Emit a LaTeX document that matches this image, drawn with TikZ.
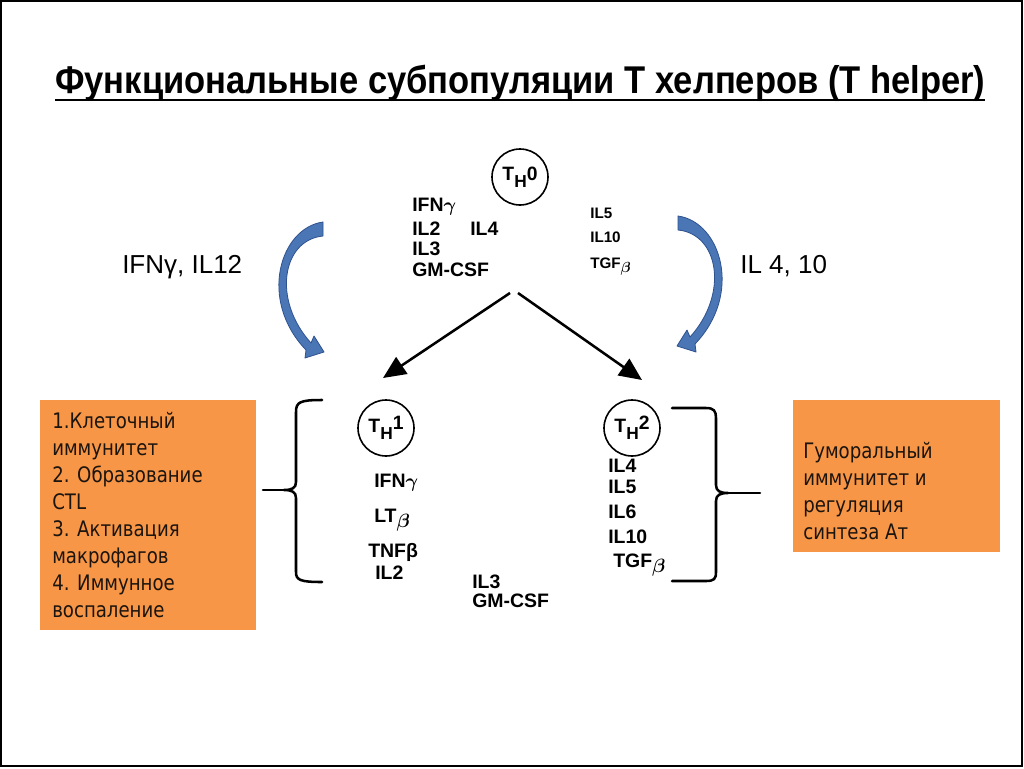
\documentclass[tikz,border=0pt]{standalone}
\usepackage{fontspec}
\usepackage{graphicx}
\setmainfont{Liberation Sans}
\newfontfamily\boxfont[FakeStretch=0.85]{DejaVu Sans}
\usetikzlibrary{arrows.meta}
\definecolor{boxorange}{RGB}{247,150,70}
\definecolor{arrowblue}{RGB}{74,118,181}
\definecolor{arrowedge}{RGB}{47,82,143}
\definecolor{boxtext}{RGB}{28,20,14}
\newcommand\thlabel[2]{T\raisebox{-0.38em}{\fontsize{13}{13}\selectfont H}\raisebox{#2}{#1}}
\newcommand\gam{{\boldmath$\gamma$}}
\newcommand\bet{\raisebox{-0.3em}{\boldmath$\beta$}}
\begin{document}
\begin{tikzpicture}[x=0.75pt,y=-0.75pt,
  cyto/.style={anchor=base west, inner sep=0pt, font=\bfseries\fontsize{14.6}{17}\selectfont},
  cytosmall/.style={anchor=base west, inner sep=0pt, font=\bfseries\fontsize{11.4}{13}\selectfont},
  cell/.style={circle, draw, line width=1.2pt, minimum size=42pt, inner sep=0pt, font=\bfseries\fontsize{14.5}{16}\selectfont},
  boxline/.style={anchor=base west, inner sep=0pt, text=boxtext, font=\boxfont\fontsize{16}{18}\selectfont},
  inducer/.style={anchor=base west, inner sep=0pt, font=\fontsize{19.5}{22}\selectfont},
  bracket/.style={line width=1.9pt, line join=round, line cap=round},
  diffarrow/.style={line width=1.9pt, -{Triangle[length=17pt,width=15pt]}},
  bluearrow/.style={fill=arrowblue, draw=arrowedge, line width=0.6pt, line join=round},
  panel/.style={fill=boxorange, draw=none, inner sep=0pt}]
\useasboundingbox (0,0) rectangle (1024,768);
\fill[white] (0,0) rectangle (1024,768);
\draw[line width=1.5pt] (1,1) rectangle (1022,766);

% title
\node[anchor=base west, inner sep=0pt] (title) at (55,93)
  {\resizebox{697.5pt}{!}{\scalebox{1}[1.12]{\bfseries Функциональные субпопуляции Т хелперов (Т helper)}}};
\draw[line width=2.2pt] (title.base west) ++(0,7) -- ++(930,0);

% cells
\node[cell] (th0) at (520,177) {\thlabel{0}{0em}};
\node[cell] (th1) at (386,428) {\thlabel{1}{0.12em}};
\node[cell] (th2) at (632,428) {\thlabel{2}{0.12em}};

% TH0 cytokines
\node[cyto] (c0a) at (412,211) {IFN\gam};
\node[cyto] (c0b) at (412,235) {IL2};
\node[cyto] (c0c) at (412,255) {IL3};
\node[cyto] (c0d) at (412,276) {GM-CSF};
\node[cyto] (c0e) at (470,235) {IL4};
\node[cytosmall] (c0f) at (590,218) {IL5};
\node[cytosmall] (c0g) at (590,242) {IL10};
\node[cytosmall] (c0h) at (590,268) {TGF\bet};

% inducers
\node[inducer] (ind1) at (122,273) {IFNγ, IL12};
\node[inducer] (ind2) at (740,273) {IL 4, 10};

% blue curved arrows
\draw[bluearrow] (323,222) .. controls (280,228) and (258,300) .. (306,350)
  -- (305,358) -- (324,352) -- (314,336) -- (311,343)
  .. controls (272,300) and (282,240) .. (323,236) -- cycle;
\draw[bluearrow] (678,216) .. controls (721,222) and (743,294) .. (695,344)
  -- (696,352) -- (677,346) -- (687,330) -- (690,337)
  .. controls (729,294) and (719,234) .. (678,230) -- cycle;

% differentiation arrows
\coordinate (split1) at (510,293);
\coordinate (split2) at (518,293);
\coordinate (to1) at (383,378);
\coordinate (to2) at (642,380);
\draw[diffarrow] (split1) -- (to1);
\draw[diffarrow] (split2) -- (to2);

% TH1 cytokines
\node[cyto] (c1a) at (374,487) {IFN\gam};
\node[cyto] (c1b) at (374,522) {LT\bet};
\node[cyto] (c1c) at (368,557) {TNFβ};
\node[cyto] (c1d) at (375,579) {IL2};
\node[cyto] (c1e) at (472,588) {IL3};
\node[cyto] (c1f) at (472,607) {GM-CSF};

% TH2 cytokines
\node[cyto] (c2a) at (608,472) {IL4};
\node[cyto] (c2b) at (608,493) {IL5};
\node[cyto] (c2c) at (608,518) {IL6};
\node[cyto] (c2d) at (608,543) {IL10};
\node[cyto] (c2e) at (613,567) {TGF\bet};

% brackets
\draw[bracket] (322,400) .. controls (300,400) and (296,402) .. (296,412) -- (296,482)
  .. controls (296,488) and (292,490) .. (284,490)
  .. controls (292,490) and (296,492) .. (296,498) -- (296,572)
  .. controls (296,580) and (300,582) .. (322,582);
\coordinate (lb) at (284,490);
\coordinate (lbtip) at (263,490);
\draw[bracket] (lb) -- (lbtip);

\draw[bracket] (672,408) -- (706,408) .. controls (714,408) and (716,411) .. (716,418) -- (716,485)
  .. controls (716,491) and (720,493) .. (728,493)
  .. controls (720,493) and (716,495) .. (716,501) -- (716,572)
  .. controls (716,579) and (714,581) .. (706,581) -- (672,581);
\coordinate (rb) at (728,493);
\coordinate (rbtip) at (760,493);
\draw[bracket] (rb) -- (rbtip);

% orange panels
\node[panel, anchor=north west, minimum width=162pt, minimum height=172.5pt] (cellpanel) at (40,400) {};
\node[panel, anchor=north west, minimum width=155.25pt, minimum height=114pt] (humpanel) at (793,400) {};

\node[boxline] (l1) at (52,428) {1.Клеточный};
\node[boxline] (l2) at (52,455) {иммунитет};
\node[boxline] (l3) at (52,482) {2. Образование};
\node[boxline] (l4) at (52,509) {CTL};
\node[boxline] (l5) at (52,536) {3. Активация};
\node[boxline] (l6) at (52,563) {макрофагов};
\node[boxline] (l7) at (52,590) {4. Иммунное};
\node[boxline] (l8) at (52,617) {воспаление};

\node[boxline] (r1) at (803,458) {Гуморальный};
\node[boxline] (r2) at (803,485) {иммунитет и};
\node[boxline] (r3) at (803,512) {регуляция};
\node[boxline] (r4) at (803,539) {синтеза Ат};
\end{tikzpicture}
\end{document}
